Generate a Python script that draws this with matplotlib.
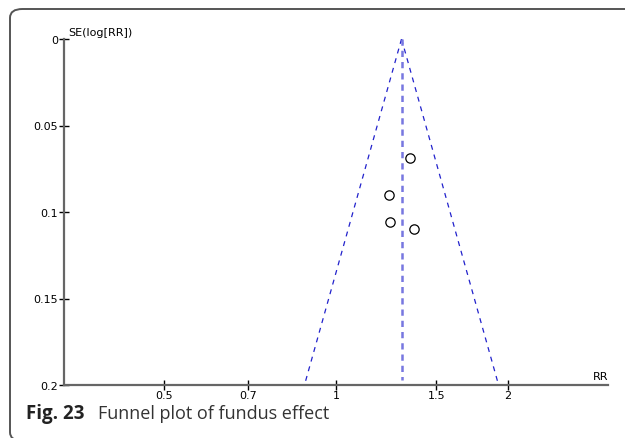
import matplotlib
matplotlib.use('agg')
import matplotlib.pyplot as plt
from matplotlib.patches import FancyBboxPatch
import numpy as np

# study estimates
rr = [1.351, 1.241, 1.246, 1.368]
se = [0.069, 0.090, 0.106, 0.110]
pooled_rr = 1.303
se_max = 0.2

xticks = [0.5, 0.7, 1, 1.5, 2]
xticklabels = ['0.5', '0.7', '1', '1.5', '2']
yticks = [0, 0.05, 0.1, 0.15, 0.2]
yticklabels = ['0', '0.05', '0.1', '0.15', '0.2']

fig = plt.figure(figsize=(6.25, 4.39), dpi=100)
ax = fig.add_axes([64/625, 1-386/439, (608-64)/625, (386-40)/439])

# funnel limits (95%)
se_line = np.array([0, se_max])
lo = np.exp(np.log(pooled_rr) - 1.96*se_line)
hi = np.exp(np.log(pooled_rr) + 1.96*se_line)
ax.plot(lo, se_line, color='#2222cc', lw=0.9, ls=(0, (4, 4)))
ax.plot(hi, se_line, color='#2222cc', lw=0.9, ls=(0, (4, 4)))
ax.plot([pooled_rr, pooled_rr], [0, se_max*0.985], color='#7777e0', lw=1.8, ls=(0, (2.5, 2)))

ax.scatter(rr, se, s=45, facecolors='white', edgecolors='black', linewidths=0.9, zorder=3)

ax.set_xscale('log')
ax.set_xlim(1/3, 3)
ax.set_ylim(se_max, 0)
ax.set_xticks(xticks)
ax.set_xticklabels(xticklabels)
ax.minorticks_off()
ax.set_yticks(yticks)
ax.set_yticklabels(yticklabels)
ax.tick_params(direction='inout', length=7, width=1, labelsize=8, colors='black', pad=1)
ax.tick_params(axis='x', pad=0)

for s in ['top', 'right']:
    ax.spines[s].set_visible(False)
for s in ['left', 'bottom']:
    ax.spines[s].set_color('#666666')
    ax.spines[s].set_linewidth(1.6)

ax.text(0.008, 1.005, 'SE(log[RR])', transform=ax.transAxes, fontsize=8, va='bottom', ha='left')
ax.text(1.0, 0.012, 'RR', transform=ax.transAxes, fontsize=8, va='bottom', ha='right')

# caption
fig.text(26/625, 1-414/439, 'Fig. 23', fontsize=13.5, fontweight='bold', family='Open Sans',
         color='#222222', va='center', ha='left')
fig.text(98/625, 1-414/439, 'Funnel plot of fundus effect', fontsize=13, family='Open Sans',
         color='#333333', va='center', ha='left')

# rounded frame around the figure
box = FancyBboxPatch((10/625, 1-442/439), 640/625, 432/439,
                     boxstyle='round,pad=0,rounding_size=0.02', transform=fig.transFigure,
                     fill=False, edgecolor='#555555', lw=1.4, clip_on=False)
fig.patches.append(box)

plt.savefig('out.png', dpi=100)
